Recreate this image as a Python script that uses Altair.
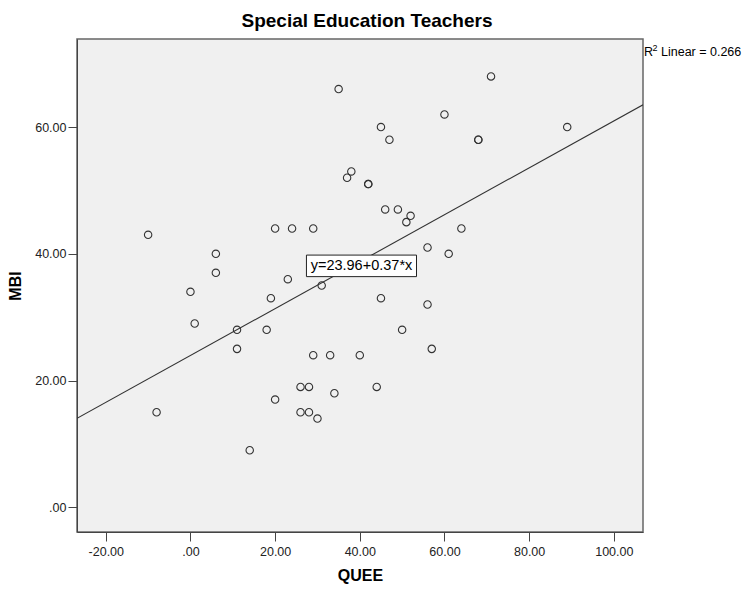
import altair as alt
import pandas as pd

# Data
queue_x = [-10, -8, 0, 1, 6, 6, 11, 11, 14, 18, 19, 20, 20, 24, 29, 23, 26, 28, 26, 28,
           30, 29, 33, 34, 31, 35, 37, 38, 40, 71, 60, 45, 47, 68, 68, 89, 42, 42, 46, 49,
           52, 51, 64, 56, 61, 45, 56, 50, 57, 44]
mbi_y = [43, 15, 34, 29, 40, 37, 28, 25, 9, 28, 33, 17, 44, 44, 44, 36, 19, 19, 15, 15,
         14, 24, 24, 18, 35, 66, 52, 53, 24, 68, 62, 60, 58, 58, 58, 60, 51, 51, 47, 47,
         46, 45, 44, 41, 40, 33, 32, 28, 25, 19]

fit_intercept = 23.96
fit_slope = 0.37
r2_label = ["R", "2", "Linear = 0.266"]
eq_text = "y=23.96+0.37*x"
x_domain = [-26.8, 106.9]
y_domain = [-3.9, 73.9]
x_ticks = [-20, 0, 20, 40, 60, 80, 100]
y_ticks = [0, 20, 40, 60]

pts = pd.DataFrame({"QUEE": queue_x, "MBI": mbi_y})
fit = pd.DataFrame({"QUEE": x_domain,
                    "MBI": [fit_intercept + fit_slope * v for v in x_domain]})
label_box = pd.DataFrame({"x": [27.4], "x2": [53.4], "y": [39.8], "y2": [36.4],
                          "cx": [40.4], "cy": [38.1], "t": [eq_text]})

FONT = "Liberation Sans"
lab_expr = "datum.value == 0 ? '.00' : replace(format(datum.value, '.2f'), '\u2212', '-')"

xs = alt.Scale(domain=x_domain, nice=False, zero=False)
ys = alt.Scale(domain=y_domain, nice=False, zero=False)

x_axis = alt.Axis(values=x_ticks, labelExpr=lab_expr, grid=False, tickSize=9,
                  labelPadding=4, title="QUEE", titleFontSize=16, titleFontWeight="bold",
                  titlePadding=10, titleFont=FONT, labelFont=FONT, labelFontSize=12.5,
                  labelColor="#222", domainColor="#444", tickColor="#444", titleColor="#000")
y_axis = alt.Axis(values=y_ticks, labelExpr=lab_expr, grid=False, tickSize=9,
                  labelPadding=2, title="MBI", titleFontSize=16, titleFontWeight="bold",
                  titlePadding=11, titleFont=FONT, labelFont=FONT, labelFontSize=12.5,
                  labelColor="#222", domainColor="#444", tickColor="#444", titleColor="#000")

points = alt.Chart(pts).mark_point(shape="circle", filled=False, size=55,
                                   stroke="#333", strokeWidth=1.1, opacity=1).encode(
    x=alt.X("QUEE:Q", scale=xs, axis=x_axis),
    y=alt.Y("MBI:Q", scale=ys, axis=y_axis),
)

line = alt.Chart(fit).mark_line(color="#333", strokeWidth=1.1, clip=True).encode(
    x=alt.X("QUEE:Q", scale=xs),
    y=alt.Y("MBI:Q", scale=ys),
)

box = alt.Chart(label_box).mark_rect(fill="white", stroke="#222", strokeWidth=1).encode(
    x=alt.X("x:Q", scale=xs), x2="x2:Q",
    y=alt.Y("y:Q", scale=ys), y2="y2:Q",
)
box_text = alt.Chart(label_box).mark_text(font=FONT, fontSize=14.5, color="#000",
                                          baseline="middle").encode(
    x=alt.X("cx:Q", scale=xs), y=alt.Y("cy:Q", scale=ys), text="t:N",
)

r2_R = alt.Chart(pd.DataFrame({"t": [r2_label[0]]})).mark_text(
    font=FONT, fontSize=12.5, color="#000", align="left", baseline="alphabetic").encode(
    x=alt.value(567), y=alt.value(17), text="t:N",
)
r2_sup = alt.Chart(pd.DataFrame({"t": [r2_label[1]]})).mark_text(
    font=FONT, fontSize=9, color="#000", align="left", baseline="alphabetic").encode(
    x=alt.value(575.5), y=alt.value(12), text="t:N",
)
r2_rest = alt.Chart(pd.DataFrame({"t": [r2_label[2]]})).mark_text(
    font=FONT, fontSize=12.5, color="#000", align="left", baseline="alphabetic").encode(
    x=alt.value(584), y=alt.value(17), text="t:N",
)

chart = alt.layer(points, line, box, box_text, r2_R, r2_sup, r2_rest).properties(
    width=566, height=493,
    title=alt.TitleParams("Special Education Teachers", font=FONT, fontSize=19,
                          fontWeight="bold", color="#000", anchor="middle", offset=8, dx=7),
    autosize=alt.AutoSizeParams(type="none"),
    padding={"left": 69, "top": 31, "right": 100, "bottom": 52},
).configure_view(fill="#f0f0f0", stroke="#666", strokeWidth=1.5)

chart.save("out.html", embed_options={"renderer": "svg", "actions": False})
